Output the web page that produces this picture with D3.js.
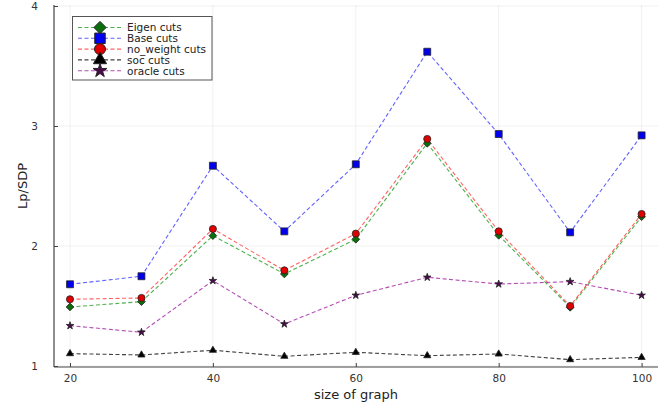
<!DOCTYPE html>
<html>
<head>
<meta charset="utf-8">
<script src="https://cdn.jsdelivr.net/npm/d3@7"></script>
<style>
  html, body { margin: 0; padding: 0; background: #fff; }
  svg { display: block; font-family: "DejaVu Sans", sans-serif; }
</style>
</head>
<body>
<svg id="chart" width="670" height="408"></svg>
<script>
// Graph sizes on the x axis
const sizes = [20, 30, 40, 50, 60, 70, 80, 90, 100];

// Ratio LP/SDP for each cut strategy
const eigenCuts    = [1.492, 1.536, 2.086, 1.767, 2.056, 2.856, 2.089, 1.489, 2.244];
const baseCuts     = [1.681, 1.748, 2.669, 2.122, 2.681, 3.619, 2.933, 2.114, 2.922];
const noWeightCuts = [1.556, 1.567, 2.142, 1.797, 2.103, 2.892, 2.122, 1.500, 2.267];
const socCuts      = [1.103, 1.092, 1.131, 1.081, 1.114, 1.086, 1.100, 1.053, 1.072];
const oracleCuts   = [1.336, 1.281, 1.711, 1.350, 1.589, 1.739, 1.683, 1.703, 1.589];

const xTicks = [20, 40, 60, 80, 100];
const yTicks = [1, 2, 3, 4];

const series = [
  { name: "Eigen cuts",     values: eigenCuts,    color: "#1f9e1f", fill: "#0a6e0a", shape: d3.symbolDiamond2, size: 38, legendSize: 95 },
  { name: "Base cuts",      values: baseCuts,     color: "#3b3bff", fill: "#0000f0", shape: d3.symbolSquare,   size: 48, legendSize: 110 },
  { name: "no_weight cuts", values: noWeightCuts, color: "#ff3b3b", fill: "#e00000", shape: d3.symbolCircle,   size: 40, legendSize: 95 },
  { name: "soc cuts",       values: socCuts,      color: "#111111", fill: "#000000", shape: d3.symbolTriangle, size: 22, legendSize: 75 },
  { name: "oracle cuts",    values: oracleCuts,   color: "#a020a0", fill: "#4a0a4a", shape: d3.symbolStar,     size: 18, legendSize: 60 }
];

const svg = d3.select("#chart");

const plot = { left: 54, right: 658, top: 5, bottom: 367 };
const x = d3.scaleLinear().domain([20, 100]).range([70, 641.6]);
const y = d3.scaleLinear().domain([1, 4]).range([366, 6]);

// Grid
const grid = svg.append("g");
grid.selectAll(".gx").data(xTicks).join("line")
  .attr("x1", d => x(d)).attr("x2", d => x(d))
  .attr("y1", plot.top).attr("y2", plot.bottom)
  .attr("stroke", "#000").attr("stroke-opacity", 0.08).attr("stroke-width", 0.8);
grid.selectAll(".gy").data(yTicks).join("line")
  .attr("x1", plot.left).attr("x2", plot.right)
  .attr("y1", d => y(d)).attr("y2", d => y(d))
  .attr("stroke", "#000").attr("stroke-opacity", 0.08).attr("stroke-width", 0.8);

// Axes
const xAxis = d3.axisBottom(x).tickValues(xTicks).tickFormat(d3.format("d"))
  .tickSize(-4).tickPadding(8).tickSizeOuter(0);
const yAxis = d3.axisLeft(y).tickValues(yTicks).tickFormat(d3.format("d"))
  .tickSize(-4).tickPadding(16).tickSizeOuter(0);

const gx = svg.append("g").attr("transform", `translate(0,${plot.bottom})`).call(xAxis);
gx.select(".domain").remove();
gx.selectAll(".tick line").attr("stroke", "#444");
gx.selectAll("text").attr("font-size", 10.5).attr("fill", "#333").attr("font-family", "DejaVu Sans");

const gy = svg.append("g").attr("transform", `translate(${plot.left},0)`).call(yAxis);
gy.select(".domain").remove();
gy.selectAll(".tick line").attr("stroke", "#444");
gy.selectAll("text").attr("font-size", 10.5).attr("fill", "#333").attr("font-family", "DejaVu Sans");

svg.append("line").attr("x1", plot.left).attr("x2", plot.right)
  .attr("y1", plot.bottom).attr("y2", plot.bottom).attr("stroke", "#444").attr("stroke-width", 1.2);
svg.append("line").attr("x1", plot.left).attr("x2", plot.left)
  .attr("y1", plot.top).attr("y2", plot.bottom).attr("stroke", "#444").attr("stroke-width", 1.2);

// Axis titles
svg.append("text").attr("x", (plot.left + plot.right) / 2).attr("y", 399)
  .attr("text-anchor", "middle").attr("font-size", 13).attr("fill", "#222")
  .text("size of graph");
svg.append("text").attr("transform", `translate(27,${(plot.top + plot.bottom) / 2}) rotate(-90)`)
  .attr("text-anchor", "middle").attr("font-size", 13).attr("fill", "#222")
  .text("Lp/SDP");

// Series lines and markers
const line = d3.line().x((d, i) => x(sizes[i])).y(d => y(d));
series.forEach(s => {
  svg.append("path").datum(s.values)
    .attr("d", line).attr("fill", "none")
    .attr("stroke", s.color).attr("stroke-width", 1.1).attr("stroke-opacity", 0.8)
    .attr("stroke-dasharray", "4,2.5");
});
series.forEach(s => {
  svg.append("g").selectAll("path").data(s.values).join("path")
    .attr("transform", (d, i) => `translate(${x(sizes[i])},${y(d)})`)
    .attr("d", d3.symbol().type(s.shape).size(s.size))
    .attr("fill", s.fill).attr("stroke", "#222").attr("stroke-width", 0.8);
});

// Legend
const legend = svg.append("g");
legend.append("rect").attr("x", 72.5).attr("y", 16.5).attr("width", 139.5).attr("height", 63.5)
  .attr("fill", "#fff").attr("stroke", "#555").attr("stroke-width", 1);
series.forEach((s, i) => {
  const ly = 27.5 + i * 10.8;
  legend.append("line").attr("x1", 78).attr("x2", 121).attr("y1", ly).attr("y2", ly)
    .attr("stroke", s.color).attr("stroke-width", 1.1).attr("stroke-opacity", 0.8)
    .attr("stroke-dasharray", "4,2.5");
  legend.append("path").attr("transform", `translate(100,${ly})`)
    .attr("d", d3.symbol().type(s.shape).size(s.legendSize))
    .attr("fill", s.fill).attr("stroke", "#222").attr("stroke-width", 1);
  legend.append("text").attr("x", 127).attr("y", ly + 3.8)
    .attr("font-size", 10.5).attr("fill", "#222").text(s.name);
});
</script>
</body>
</html>
